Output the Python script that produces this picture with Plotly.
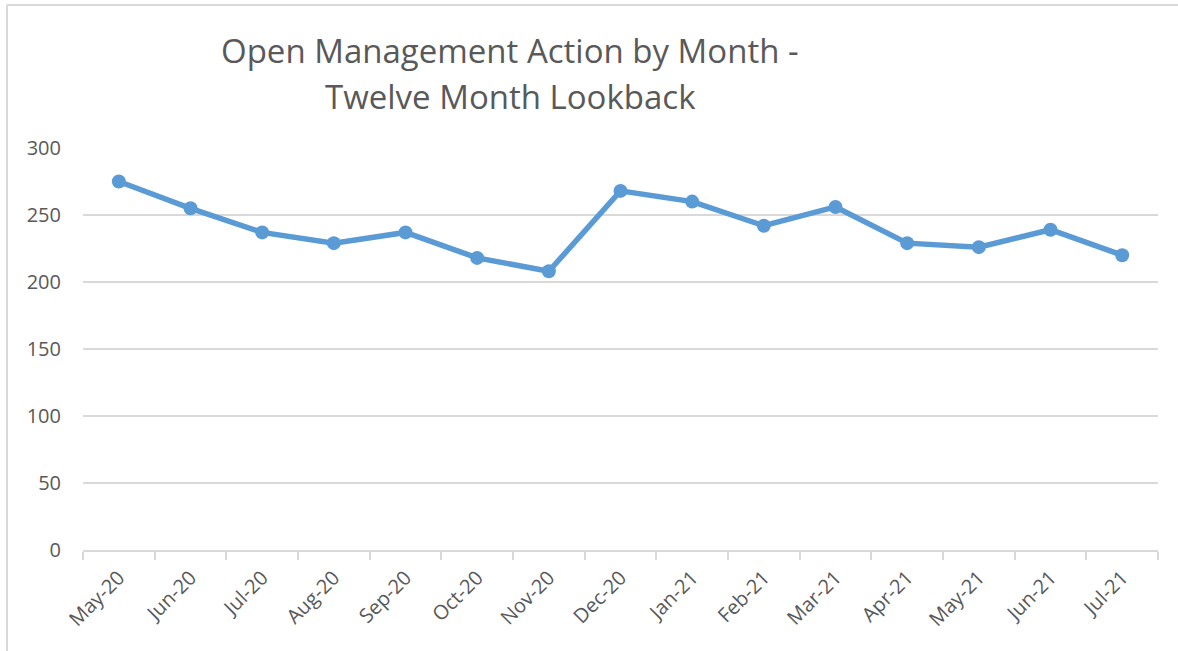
import plotly.graph_objects as go

months = ["May-20", "Jun-20", "Jul-20", "Aug-20", "Sep-20", "Oct-20", "Nov-20", "Dec-20",
          "Jan-21", "Feb-21", "Mar-21", "Apr-21", "May-21", "Jun-21", "Jul-21"]
open_actions = [275, 255, 237, 229, 237, 218, 208, 268, 260, 242, 256, 229, 226, 239, 220]
y_ticks = [0, 50, 100, 150, 200, 250, 300]
title_lines = ["Open Management Action by Month -", "Twelve Month Lookback"]

fig = go.Figure()
fig.add_trace(go.Scatter(
    x=months, y=open_actions, mode="lines+markers",
    line=dict(color="#5b9bd5", width=5.5),
    marker=dict(color="#5b9bd5", size=14),
    hoverinfo="x+y", showlegend=False,
))

grey = "#595959"
L, T, W, H = 83, 148, 1075, 402


def px_x(x):
    return (x - L) / W


def px_y(y):
    return 1 - (y - T) / H


fig.update_layout(
    width=1178, height=651,
    margin=dict(l=L, r=1178 - L - W, t=T, b=651 - T - H),
    paper_bgcolor="white", plot_bgcolor="white",
    font=dict(family="Open Sans, sans-serif", color=grey, size=20),
    xaxis=dict(
        type="category", range=[-0.5, 14.5], tickson="boundaries",
        ticks="outside", ticklen=8, tickcolor="#d9d9d9", tickwidth=2,
        showline=True, linecolor="#d9d9d9", linewidth=2,
        showgrid=False, tickangle=-45, tickfont=dict(size=20, color=grey),
        ticklabelstandoff=6,
    ),
    yaxis=dict(
        range=[0, 300], tickvals=y_ticks, showgrid=True, gridcolor="#d9d9d9",
        gridwidth=2, zeroline=False, showline=False, ticks="",
        ticklabelstandoff=21, tickfont=dict(size=20, color=grey),
    ),
    annotations=[
        dict(text=title_lines[0], xref="paper", yref="paper",
             x=px_x(510), y=px_y(50), xanchor="center", yanchor="middle",
             showarrow=False, font=dict(size=33, color=grey)),
        dict(text=title_lines[1], xref="paper", yref="paper",
             x=px_x(510), y=px_y(97), xanchor="center", yanchor="middle",
             showarrow=False, font=dict(size=33, color=grey)),
    ],
    shapes=[
        dict(type="line", xref="paper", yref="paper",
             x0=px_x(7), x1=px_x(1178), y0=px_y(5), y1=px_y(5),
             line=dict(color="#d9d9d9", width=2)),
        dict(type="line", xref="paper", yref="paper",
             x0=px_x(7), x1=px_x(7), y0=px_y(5), y1=px_y(651),
             line=dict(color="#d9d9d9", width=2)),
    ],
)

fig.write_html(
    "out.html",
    config={"displayModeBar": False},
    post_script="document.body.style.margin='0';document.body.style.overflow='hidden';",
)
